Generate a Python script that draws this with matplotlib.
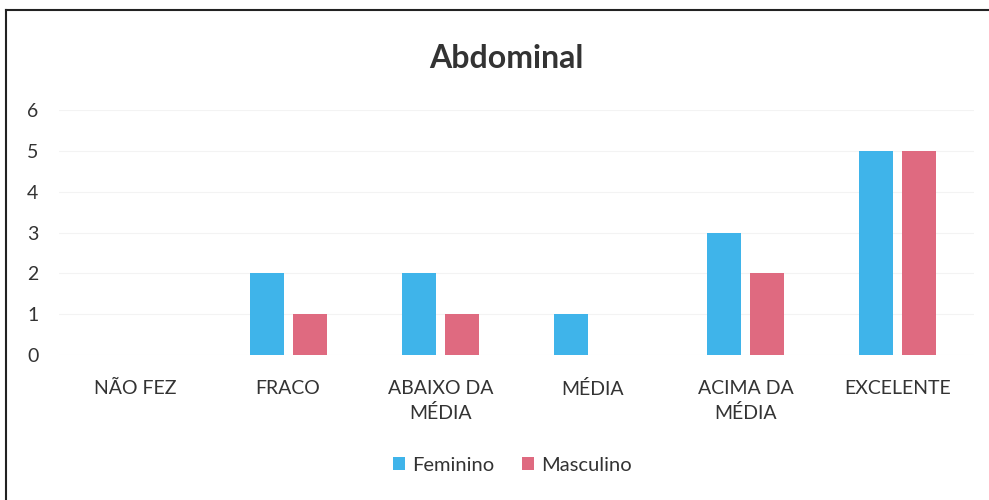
import numpy as np
import matplotlib.pyplot as plt
from matplotlib.lines import Line2D

categorias = ['NÃO FEZ', 'FRACO', 'ABAIXO DA\nMÉDIA', 'MÉDIA', 'ACIMA DA\nMÉDIA', 'EXCELENTE']
feminino = [0, 2, 2, 1, 3, 5]
masculino = [0, 1, 1, 0, 2, 5]

plt.rcParams['font.family'] = ['Lato', 'DejaVu Sans']

fig = plt.figure(figsize=(9.89, 5), dpi=100)
ax = fig.add_axes([0.060, 0.29, 0.925, 0.49])

x = np.arange(len(categorias))
w = 0.223
ax.bar(x - 0.141, feminino, w, color='#3FB4EA', label='Feminino')
ax.bar(x + 0.141, masculino, w, color='#DF6A80', label='Masculino')

ax.set_xlim(-0.5, 5.5)
ax.set_ylim(0, 6)
ax.set_yticks(range(7))
ax.set_xticks(x, categorias)
ax.tick_params(length=0, labelsize=14, colors='#333333')
ax.tick_params(axis='x', pad=18)
ax.tick_params(axis='y', pad=15)
for lbl in ax.get_xticklabels():
    lbl.set_linespacing(1.45)
ax.yaxis.grid(True, color='#f3f3f3', linewidth=0.8)
ax.set_axisbelow(True)
for s in ax.spines.values():
    s.set_visible(False)

fig.text(0.512, 0.884, 'Abdominal', ha='center', va='center', fontsize=23,
         fontweight='bold', color='#333333')
ax.legend(loc='center', bbox_to_anchor=(0.495, -0.449), ncol=2, frameon=False,
          fontsize=14.5, handlelength=0.6, handleheight=0.6, columnspacing=1.4,
          handletextpad=0.35, labelcolor='#333333')

# moldura do grafico
fig.add_artist(Line2D([0.006, 0.006], [0, 0.98], color='#222222', lw=1.5))
fig.add_artist(Line2D([0.006, 1], [0.98, 0.98], color='#222222', lw=1.5))

fig.savefig('out.png', dpi=100)
